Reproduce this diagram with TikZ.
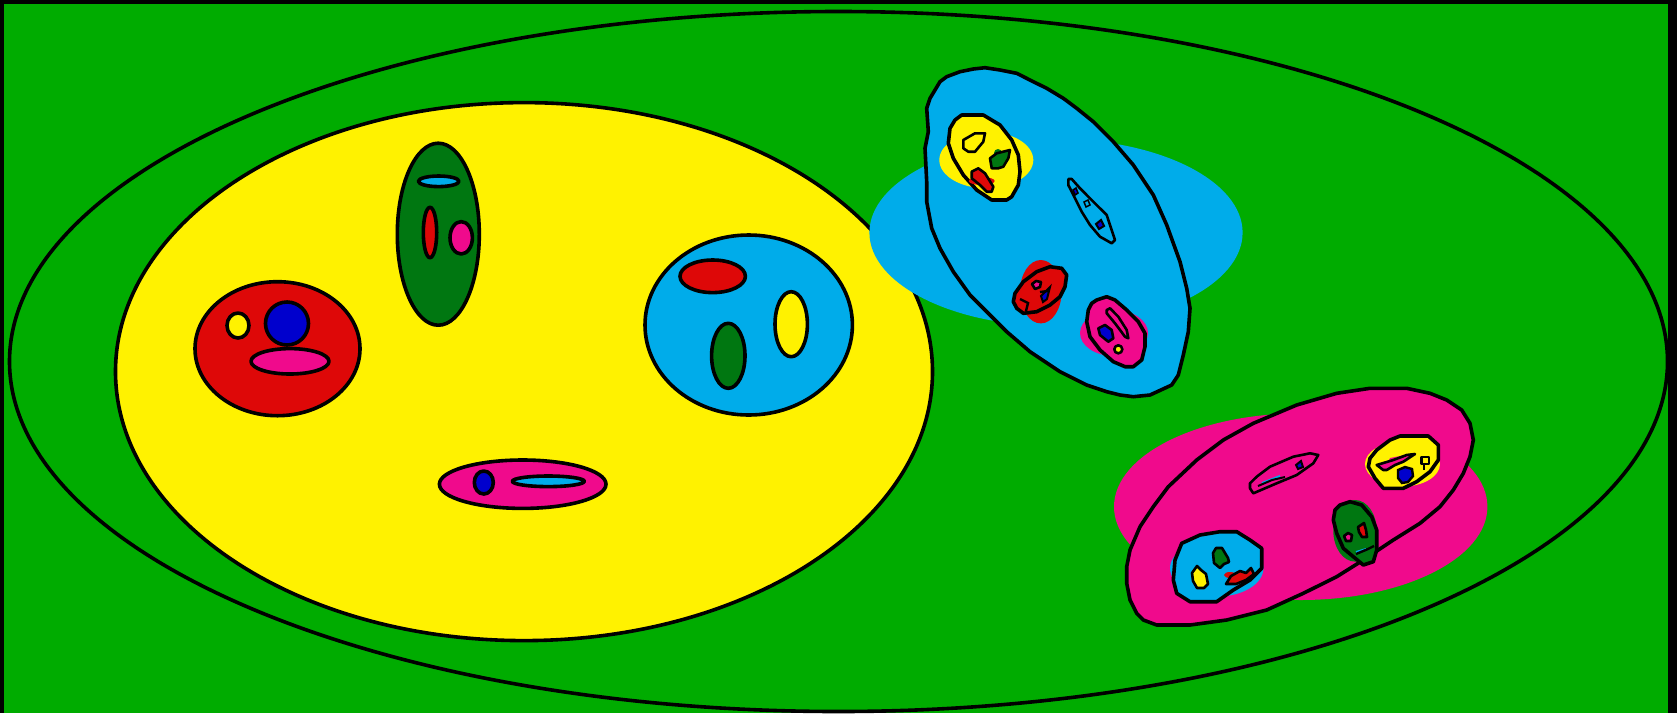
\documentclass[tikz,border=0pt]{standalone}
\definecolor{bggreen}{RGB}{0,172,0}
\definecolor{cyel}{RGB}{255,242,0}
\definecolor{cred}{RGB}{222,8,8}
\definecolor{cblue}{RGB}{0,0,205}
\definecolor{cpink}{RGB}{240,10,140}
\definecolor{ccyan}{RGB}{0,172,234}
\definecolor{cdgreen}{RGB}{0,119,17}
\tikzset{
  sh/.style={draw=black, line width=3.6pt, line join=round},
  thin sh/.style={draw=black, line width=2.6pt, line join=round},
}
\begin{document}
\begin{tikzpicture}[x=1pt,y=-1pt]
\useasboundingbox (0,0) rectangle (1677,713);
\fill[black] (0,0) rectangle (1677,713);
\fill[bggreen] (4,4) rectangle (1668,713);
% outer ellipse
\draw[sh] (838.5,361.5) ellipse [x radius=829, y radius=350];
% big yellow
\filldraw[sh, fill=cyel] (524,371.6) ellipse [x radius=408.5, y radius=269];
% red face
\filldraw[sh, fill=cred] (277.5,348.7) ellipse [x radius=82.5, y radius=67];
\filldraw[sh, fill=cyel] (238,325.5) ellipse [x radius=11, y radius=12.5];
\filldraw[sh, fill=cblue] (287,323.5) circle [radius=21.5];
\filldraw[sh, fill=cpink] (290,361.3) ellipse [x radius=39, y radius=12.7];
% green face
\filldraw[sh, fill=cdgreen] (438.3,234.2) ellipse [x radius=41, y radius=91];
\filldraw[sh, fill=ccyan] (438.7,181.3) ellipse [x radius=20.3, y radius=5.3];
\filldraw[sh, fill=cred] (430,232.5) ellipse [x radius=6.7, y radius=25.2];
\filldraw[sh, fill=cpink] (461.2,237.8) ellipse [x radius=11.2, y radius=16.2];
% blue face
\filldraw[sh, fill=ccyan] (748.7,325) ellipse [x radius=103.7, y radius=90];
\filldraw[sh, fill=cred] (712.7,276.3) ellipse [x radius=32.7, y radius=16.3];
\filldraw[sh, fill=cyel] (791.2,324.2) ellipse [x radius=16.2, y radius=32.5];
\filldraw[sh, fill=cdgreen] (728.3,355.8) ellipse [x radius=16.7, y radius=32.5];
% pink face bottom
\filldraw[sh, fill=cpink] (522.7,484.2) ellipse [x radius=83.3, y radius=24.2];
\filldraw[sh, fill=cblue] (483.8,482.5) ellipse [x radius=9.5, y radius=11.5];
\filldraw[sh, fill=ccyan] (548.3,481.3) ellipse [x radius=36, y radius=5.3];

% ===== blue blob group =====
\fill[ccyan] (1056,232.6) ellipse [x radius=186.6, y radius=93.6];
\filldraw[sh, fill=ccyan] plot coordinates {(985,67.7) (1000,70) (1016.7,73.3) (1033.3,81.7) (1046.7,88.3) (1063.3,98.3) (1076.7,108.3) (1093.3,121.7) (1113.3,141.7) (1133.3,165) (1153.3,195) (1166.7,225) (1180,261.7) (1186.7,288.3) (1190,308.3) (1188.3,331.7) (1183.3,355) (1178.3,375) (1171.7,385) (1150,395) (1133.3,396.7) (1120,395) (1106.7,391.7) (1086.7,385) (1060,371.7) (1030,351.7) (1006.7,331.7) (986.7,311.7) (970,295) (953.3,271.7) (940,248.3) (931.7,228.3) (926.7,201.7) (926.7,181.7) (925,148.3) (928.3,131.7) (926.7,108.3) (930,98.3) (940,81.7) (946.7,76.7) (960,71.7) (973.3,69)} -- cycle;
% yellow sub-face
\fill[cyel] (986.3,160) ellipse [x radius=47, y radius=28.3];
\filldraw[sh, fill=cyel] plot coordinates {(961.7,115) (983.3,115) (1000,125) (1011.7,140) (1018.3,155) (1020,171.7) (1018.3,185) (1011.7,196.7) (1006.7,200) (991.7,200) (976.7,190) (963.3,175) (953.3,158.3) (948.3,143.3) (950,128.3) (955,120)} -- cycle;
\filldraw[thin sh, fill=cyel] plot coordinates {(963.3,140) (975,133.3) (985,133.3) (983.3,141.7) (975,151.7) (968.3,151.7) (963.3,148.3)} -- cycle;
\fill[cdgreen] (998,153) circle [radius=4];
\filldraw[thin sh, fill=cdgreen] plot coordinates {(990,158.3) (996.7,153.3) (1010,150) (1008.3,158.3) (1003.3,166.7) (998.3,168.3) (991.7,168.3)} -- cycle;
\fill[cred] (981.7,181) ellipse [x radius=13, y radius=4];
\filldraw[thin sh, fill=cred] plot coordinates {(971.7,171.7) (978.3,168.3) (985,173.3) (993.3,186.7) (991.7,191.7) (986.7,191.7) (980,185) (971.7,178.3)} -- cycle;
% cyan needle
\filldraw[thin sh, fill=ccyan] plot coordinates {(1068.3,179) (1071.7,179) (1080,188.3) (1093.3,201.7) (1106.7,215) (1113.3,235) (1115,240) (1111.7,243.3) (1100,236.7) (1090,225) (1081.7,211.7) (1076.7,201.7) (1071.7,191.7) (1068.3,185)} -- cycle;
\filldraw[line width=1.5pt, fill=cblue] (1073,190) -- (1076,188) -- (1078,193) -- (1075,195) -- cycle;
\filldraw[line width=1.5pt, fill=ccyan] (1084,202) -- (1088,200) -- (1090,205) -- (1086,207) -- cycle;
\filldraw[line width=2pt, fill=cblue] (1096,224) -- (1101,220) -- (1104,226) -- (1099,229) -- cycle;
% red sub-face
\fill[cred] (1040.8,291.7) ellipse [x radius=20.8, y radius=31.7];
\filldraw[sh, fill=cred] plot coordinates {(1015,293.3) (1023.3,281.7) (1036.7,271.7) (1050,266.7) (1061.7,268.3) (1066.7,275) (1065,286.7) (1060,296.7) (1050,305) (1036.7,311.7) (1023.3,313.3) (1016.7,308.3) (1013.3,301.7)} -- cycle;
\filldraw[thin sh, fill=cpink] plot coordinates {(1032,284) (1036,281) (1041,282) (1040,287) (1035,289)} -- cycle;
\filldraw[line width=2pt, fill=cblue] (1041,296) -- (1050,287) -- (1047,299) -- (1043,302) -- cycle;
\draw[line width=2.4pt] (1040,292) -- (1048,291) (1020,299) -- (1028,303) -- (1026,311);
% pink sub-face
\fill[cpink] (1114,333) ellipse [x radius=34, y radius=23];
\filldraw[sh, fill=cpink] plot coordinates {(1096.7,300) (1106.7,296.7) (1115,300) (1126.7,310) (1138.3,321.7) (1145,333.3) (1145,346.7) (1141.7,360) (1133.3,366.7) (1125,366.7) (1113.3,361.7) (1100,350) (1090,336.7) (1086.7,321.7) (1088.3,310) (1091.7,303.3)} -- cycle;
\filldraw[thin sh, fill=cpink] plot coordinates {(1106.7,310) (1110,308.3) (1118.3,316.7) (1126.7,330) (1128.3,338.3) (1125,336.7) (1115,323.3) (1106.7,313.3)} -- cycle;
\filldraw[thin sh, fill=cblue] plot coordinates {(1098.3,328.3) (1105,325) (1111.7,330) (1113.3,338.3) (1108.3,341.7) (1100,335)} -- cycle;
\filldraw[thin sh, fill=cyel] (1118.3,349.3) circle [radius=4];

% ===== pink blob group =====
\fill[cpink] (1300.7,506.7) ellipse [x radius=186.7, y radius=93.3];
\filldraw[sh, fill=cpink] plot coordinates {(1130,550) (1140,526.7) (1153.3,506.7) (1168.3,486.7) (1196.7,460) (1223.3,440) (1253.3,423.3) (1296.7,405) (1336.7,393.3) (1370,388.3) (1406.7,388.3) (1430,393.3) (1446.7,400) (1461.7,410) (1470,423.3) (1473.3,440) (1470,456.7) (1463.3,473.3) (1453.3,490) (1440,506.7) (1420,523.3) (1393.3,540) (1363.3,560) (1336.7,576.7) (1303.3,593.3) (1266.7,610) (1226.7,620) (1190,625) (1156.7,625) (1143.3,620) (1136.7,613.3) (1130,600) (1126.7,583.3) (1126.7,566.7)} -- cycle;
% sliver
\filldraw[thin sh, fill=cpink] plot coordinates {(1250,488.3) (1253.3,493.3) (1276.7,483.3) (1296.7,475) (1313.3,463.3) (1318.3,455) (1310,453.3) (1293.3,456.7) (1270,466.7) (1256.7,476.7) (1250,483.3)} -- cycle;
\draw[ccyan, line width=2pt] (1262,483) -- (1280,476);
\draw[line width=2pt] (1258,486) -- (1272,480) -- (1285,477);
\filldraw[line width=2pt, fill=cblue] (1296,465) -- (1301,461) -- (1303,467) -- (1298,469) -- cycle;
% yellow sub-face
\fill[cyel] (1402.5,464) ellipse [x radius=37.5, y radius=22.5];
\filldraw[sh, fill=cyel] plot coordinates {(1376.7,450) (1390,440) (1400,436) (1428.3,436) (1438.3,445) (1438.3,460) (1430,471.7) (1416.7,481.7) (1403.3,488.3) (1383.3,488.3) (1375,478.3) (1368.3,466.7) (1370,458.3)} -- cycle;
\fill[cpink] (1390,458) -- (1410,454) -- (1405,460) -- (1388,462) -- cycle;
\filldraw[line width=2.4pt, fill=cblue] (1398,470) -- (1405,467) -- (1412,469) -- (1413,476) -- (1408,482) -- (1402,483) -- (1398,478) -- cycle;
\filldraw[thin sh, fill=cpink] plot coordinates {(1376.7,465) (1393.3,460) (1406.7,455) (1415,454) (1403.3,461.7) (1395,465) (1386.7,470) (1383.3,470)} -- cycle;
\filldraw[thin sh, fill=cyel] (1421.7,457) rectangle (1429,464);
\draw[line width=2.4pt] (1424,464) -- (1424,470);
% green sub-face
\fill[cdgreen] (1355,530.8) ellipse [x radius=21.7, y radius=30.8];
\filldraw[sh, fill=cdgreen] plot coordinates {(1340,505) (1350,501.7) (1361.7,505) (1371.7,516.7) (1376.7,530) (1376.7,550) (1373.3,561.7) (1363.3,565) (1353.3,556.7) (1343.3,548.3) (1336.7,533.3) (1333.3,520) (1335,510)} -- cycle;
\filldraw[thin sh, fill=cpink] plot coordinates {(1344,536) (1348,533) (1352,535) (1351,541) (1346,541)} -- cycle;
\filldraw[thin sh, fill=cred] plot coordinates {(1358,527) (1364,523) (1366,530) (1367,537) (1362,537) (1359,532)} -- cycle;
\draw[ccyan, line width=2pt] (1356,552) -- (1366,549);
\draw[line width=2.4pt] (1356,554) -- (1368,549) -- (1374,546);
% cyan sub-face
\fill[ccyan] (1216.7,568.3) ellipse [x radius=46.7, y radius=28.3];
\filldraw[sh, fill=ccyan] plot coordinates {(1181.7,543.3) (1200,535) (1220,531.7) (1236.7,531.7) (1250,540) (1261.7,548.3) (1261.7,568.3) (1250,580) (1233.3,590) (1216.7,601.7) (1190,601.7) (1176.7,593.3) (1173.3,580) (1175,560)} -- cycle;
\filldraw[thin sh, fill=cdgreen] plot coordinates {(1213,553) (1216,548) (1222,548) (1225,553) (1228,558) (1229,562) (1224,564) (1220,568) (1214,563)} -- cycle;
\filldraw[thin sh, fill=cyel] plot coordinates {(1192,573) (1197,566) (1201,570) (1206,574) (1208,584) (1204,588) (1197,588) (1193,581)} -- cycle;
\fill[cred] (1230,575) ellipse [x radius=6, y radius=3];
\filldraw[thin sh, fill=cred] plot coordinates {(1226,584) (1231,576) (1240,571) (1246,573) (1251,568) (1254,574) (1246,580) (1236,584)} -- cycle;
\end{tikzpicture}
\end{document}
